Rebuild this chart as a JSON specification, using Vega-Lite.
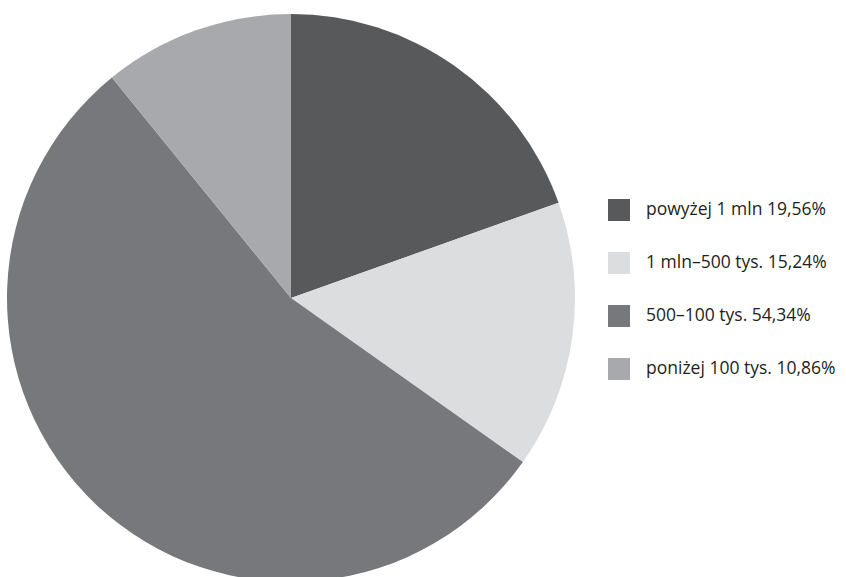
{
  "$schema": "https://vega.github.io/schema/vega-lite/v6.json",
  "width": 582,
  "height": 596,
  "padding": 0,
  "background": "white",
  "data": {
    "values": [
      {"idx": 1, "label": "powyżej 1 mln 19,56%", "share": 19.56},
      {"idx": 2, "label": "1 mln–500 tys. 15,24%", "share": 15.24},
      {"idx": 3, "label": "500–100 tys. 54,34%", "share": 54.34},
      {"idx": 4, "label": "poniżej 100 tys. 10,86%", "share": 10.86}
    ]
  },
  "mark": {"type": "arc", "outerRadius": 284, "strokeWidth": 0},
  "encoding": {
    "theta": {"field": "share", "type": "quantitative", "stack": true},
    "order": {"field": "idx", "type": "quantitative"},
    "color": {
      "field": "label",
      "type": "nominal",
      "sort": null,
      "scale": {
        "domain": ["powyżej 1 mln 19,56%", "1 mln–500 tys. 15,24%", "500–100 tys. 54,34%", "poniżej 100 tys. 10,86%"],
        "range": ["#58595b", "#dcdddf", "#77787b", "#a7a9ac"]
      },
      "legend": {
        "title": null,
        "orient": "none",
        "legendX": 608,
        "legendY": 199,
        "padding": 0,
        "symbolType": "square",
        "symbolSize": 484,
        "symbolStrokeWidth": 0,
        "symbolOpacity": 1,
        "rowPadding": 31,
        "labelOffset": 16,
        "labelFont": "Open Sans",
        "labelFontSize": 17.5,
        "labelColor": "#231f20",
        "labelLimit": 400
      }
    }
  },
  "config": {"view": {"stroke": null}}
}
